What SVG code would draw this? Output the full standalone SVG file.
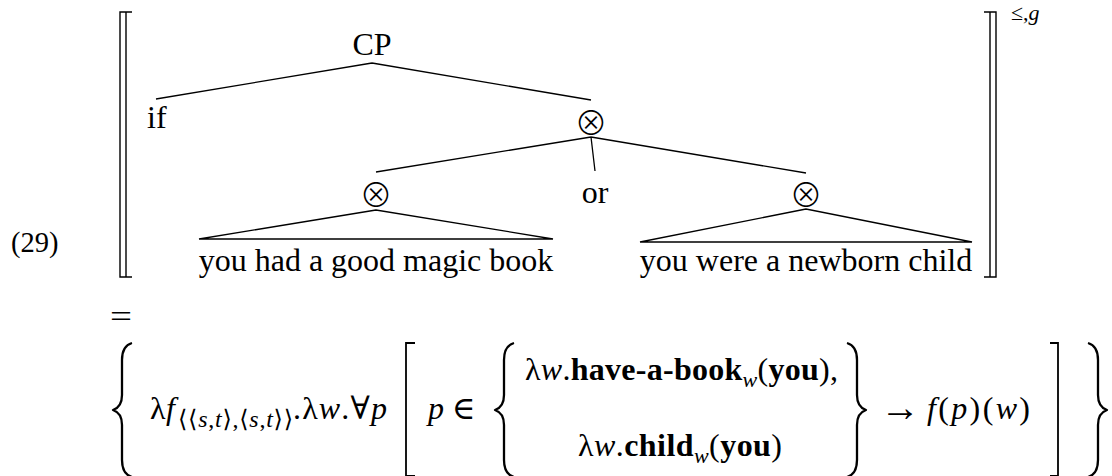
<svg xmlns="http://www.w3.org/2000/svg" width="1112" height="476" viewBox="0 0 1112 476">
<style>
.t{font-family:"Liberation Serif","DejaVu Serif",serif;fill:#000}
.i{font-style:italic}
.b{font-weight:bold}
.tree{font-size:32px}
.m{font-size:32px}
.sub{font-size:24px}
.sym{font-family:"Noto Sans CJK JP","DejaVu Sans",sans-serif;font-weight:300;font-size:33px;fill:#000}
.ln{stroke:#000;stroke-width:1.3;fill:none}
.br{stroke:#000;stroke-width:1.4;fill:none}
.dl{stroke:#000;stroke-width:1.8;fill:none}
.brace{stroke:#000;stroke-width:2.3;fill:none;stroke-linejoin:round}
</style>
<defs>
<path id="lbrace" d="M19,-67 C12,-65 9,-60 9,-50 L9,-15 C9,-6 6,-2 0,0 C6,2 9,6 9,15 L9,50 C9,60 12,65 19,67"/>
</defs>
<rect width="1112" height="476" fill="#fff"/>
<text id="exnum" class="t" font-size="28.5" x="11" y="252">(29)</text>
<g id="dbl-brackets">
<path class="br" d="M132,12 H120 V277 H132 M126,12 V277"/>
<path class="br" d="M984,12 H996 V277 H984 M990,12 V277"/>
<text class="t" font-size="22" x="1011" y="20">≤,<tspan class="i">g</tspan></text>
</g>
<g id="connectors">
<path class="ln" d="M372,63 L156,99 M372,63 L591,100"/>
<path class="ln" d="M591,137 L376,172 M591,137 L595,171 M591,137 L806,173"/>
<path class="ln" d="M376,210 L199,239 L553,239 Z"/>
<path class="ln" d="M806,209 L640,242 L972,242 Z"/>
</g>
<g id="n-cp"><text class="t tree" x="372" y="55" text-anchor="middle">CP</text></g>
<g id="n-if"><text class="t tree" x="147" y="128">if</text></g>
<g id="n-otimes-top"><text class="sym" x="591" y="135" text-anchor="middle">⊗</text></g>
<g id="n-otimes-left"><text class="sym" x="376" y="207" text-anchor="middle">⊗</text></g>
<g id="n-or"><text class="t tree" x="595" y="203" text-anchor="middle">or</text></g>
<g id="n-otimes-right"><text class="sym" x="806" y="207" text-anchor="middle">⊗</text></g>
<g id="n-leaf-left"><text class="t tree" x="376" y="271" text-anchor="middle">you had a good magic book</text></g>
<g id="n-leaf-right"><text class="t tree" x="806" y="271" text-anchor="middle">you were a newborn child</text></g>
<g id="formula">
<text class="t m" x="110" y="327" textLength="22" lengthAdjust="spacingAndGlyphs">=</text>
<use href="#lbrace" class="brace" transform="translate(113,410)"/>
<text class="t m" x="150" y="419">λ</text>
<text class="t m i" x="166" y="419">f</text>
<text class="t sub" x="178" y="427" textLength="115" lengthAdjust="spacing">⟨⟨<tspan class="i">s</tspan>,<tspan class="i">t</tspan>⟩,⟨<tspan class="i">s</tspan>,<tspan class="i">t</tspan>⟩⟩</text>
<text class="t m" x="293" y="419" textLength="94" lengthAdjust="spacing">.λ<tspan class="i">w</tspan>.∀<tspan class="i">p</tspan></text>
<path class="dl" d="M415,343 H406 V476 H415"/>
<text class="t m" x="428" y="419"><tspan class="i">p</tspan> ∈</text>
<use href="#lbrace" class="brace" transform="translate(495,410)"/>
<text class="t m" x="525" y="380" textLength="313" lengthAdjust="spacing">λ<tspan class="i">w</tspan>.<tspan class="b">have-a-book</tspan><tspan class="i" font-size="22" dy="7">w</tspan><tspan dy="-7">(</tspan><tspan class="b">you</tspan>),</text>
<text class="t m" x="578" y="456" textLength="204" lengthAdjust="spacing">λ<tspan class="i">w</tspan>.<tspan class="b">child</tspan><tspan class="i" font-size="22" dy="7">w</tspan><tspan dy="-7">(</tspan><tspan class="b">you</tspan>)</text>
<use href="#lbrace" class="brace" transform="translate(866,410) scale(-1,1)"/>
<text class="t" font-size="40" x="880" y="421">→</text>
<text class="t m" x="927" y="419" textLength="103" lengthAdjust="spacing"><tspan class="i">f</tspan>(<tspan class="i">p</tspan>)(<tspan class="i">w</tspan>)</text>
<path class="dl" d="M1050,343 H1058 V476 H1050"/>
<use href="#lbrace" class="brace" transform="translate(1107,410) scale(-1,1)"/>
</g>
</svg>
